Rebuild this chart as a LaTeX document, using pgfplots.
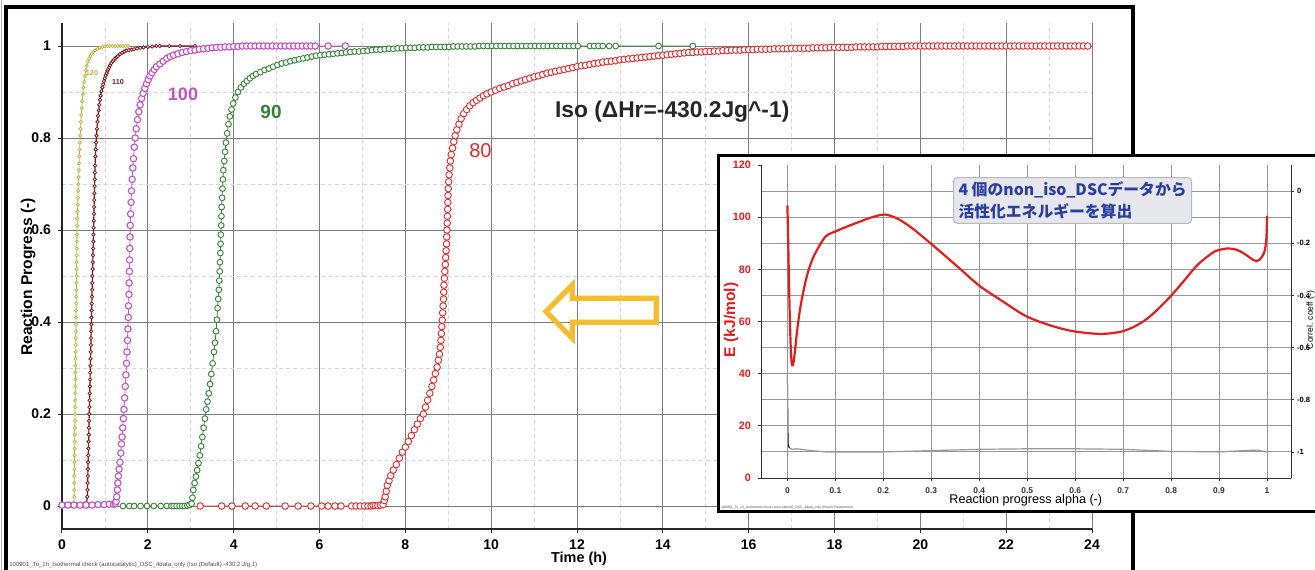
\documentclass[border=0pt]{standalone}
\usepackage{pgfplots}
\pgfplotsset{compat=1.18}
\usepackage{fontspec}
\setmainfont{Liberation Sans}
\newfontfamily\cjk{Noto Sans CJK JP}

\definecolor{c120}{RGB}{180,180,50}
\definecolor{c110}{RGB}{122,26,26}
\definecolor{c100}{RGB}{197,79,197}
\definecolor{c90}{RGB}{52,130,52}
\definecolor{c80}{RGB}{222,42,42}
\definecolor{arrowc}{RGB}{244,188,46}
\definecolor{jblue}{RGB}{42,62,160}
\definecolor{boxfill}{RGB}{229,231,237}
\definecolor{boxline}{RGB}{185,185,195}
\definecolor{majgrid}{RGB}{125,125,125}
\definecolor{mingrid}{RGB}{215,215,215}
\definecolor{inred}{RGB}{228,30,30}
\definecolor{ingrid}{RGB}{150,150,150}

\pgfplotsset{
  ser/.style n args={3}{#1, line width=0.4pt, mark=*, mark size=#2, mark options={fill=white, draw=#1, line width=#3}},
}

\begin{document}
\begin{tikzpicture}
\useasboundingbox (0,0) rectangle (657.5pt,284.5pt);
\clip (0,0) rectangle (657.5pt,284.5pt);
% outer frame of main chart
\draw[gray!60, line width=0.5pt] (0.75pt,-5pt) -- (0.75pt,290pt);
\draw[black, line width=1.6pt] (3pt,-5pt) -- (3pt,281pt) -- (566.5pt,281pt) -- (566.5pt,-5pt);

\begin{axis}[
  at={(31pt,20pt)}, anchor=south west,
  width=515pt, height=253pt, scale only axis,
  xmin=0, xmax=24, ymin=-0.05, ymax=1.05,
  axis x line*=bottom, axis y line*=left,
  axis line style={black!85, line width=0.6pt},
  xtick={0,2,4,6,8,10,12,14,16,18,20,22,24},
  minor xtick={1,3,5,7,9,11,13,15,17,19,21,23},
  ytick={0,0.2,0.4,0.6,0.8,1},
  minor ytick={0.1,0.3,0.5,0.7,0.9},
  grid=both,
  major grid style={majgrid, line width=0.5pt},
  minor grid style={mingrid, dash pattern=on 2pt off 1.5pt, line width=0.4pt},
  tick align=outside, major tick length=2pt, minor tick length=0pt,
  tick style={black!85, line width=0.5pt},
  /pgf/number format/assume math mode=true,
  tick label style={font=\fontsize{7}{8}\selectfont\bfseries},
  xlabel={Time (h)}, ylabel={Reaction Progress (-)},
  xlabel style={font=\fontsize{7.2}{8}\selectfont\bfseries, at={(axis description cs:0.502,0)}, anchor=center, yshift=-15pt},
  ylabel style={font=\fontsize{7.8}{9}\selectfont\bfseries, at={(axis description cs:-0.033,0.498)}, anchor=center},
]
% 120
\addplot[ser={c120}{0.8pt}{0.35pt}] coordinates {
(0,0.004)(0.06,0.004)(0.12,0.004)(0.18,0.005)(0.24,0.005)(0.27,0.006)
(0.2823,0.02)(0.284,0.035)(0.2858,0.05)(0.2875,0.065)(0.2892,0.08)(0.2909,0.095)(0.2927,0.11)(0.2944,0.125)(0.2961,0.14)(0.2978,0.155)
(0.2996,0.17)(0.3013,0.185)(0.303,0.2)(0.3047,0.215)(0.3065,0.23)(0.3082,0.245)(0.3099,0.26)(0.3116,0.275)(0.3134,0.29)(0.3151,0.305)
(0.3168,0.32)(0.3185,0.335)(0.3203,0.35)(0.322,0.365)(0.3237,0.38)(0.3254,0.395)(0.3272,0.41)(0.3289,0.425)(0.3306,0.44)(0.3323,0.455)
(0.3341,0.47)(0.3358,0.485)(0.3375,0.5)(0.3392,0.515)(0.341,0.53)(0.3427,0.545)(0.3444,0.56)(0.3461,0.575)(0.3479,0.59)
(0.352,0.61)(0.357,0.625)(0.362,0.64)(0.367,0.655)(0.372,0.67)(0.377,0.685)(0.382,0.70)(0.387,0.715)(0.392,0.73)(0.398,0.745)
(0.404,0.76)(0.41,0.775)(0.417,0.79)(0.424,0.805)(0.432,0.82)(0.44,0.835)(0.45,0.85)(0.46,0.865)(0.472,0.88)(0.485,0.895)
(0.5,0.91)(0.515,0.922)(0.535,0.935)(0.555,0.947)(0.575,0.957)(0.6,0.965)(0.63,0.972)(0.66,0.978)(0.69,0.983)(0.73,0.987)
(0.77,0.99)(0.82,0.993)(0.88,0.996)(0.94,0.998)(1.0,0.999)(1.06,1.0)(1.12,1.0)(1.18,1.0)(1.24,1.0)(1.3,1.0)(1.36,1.0)(1.42,1.0)(1.48,1.0)(1.54,1.0)};
% 110
\addplot[ser={c110}{0.85pt}{0.4pt}, line width=0.6pt] coordinates {
(0,0.003)(0.11,0.003)(0.22,0.003)(0.33,0.004)(0.44,0.004)(0.52,0.005)(0.57,0.006)
(0.590,0.02)(0.594,0.035)(0.5975,0.05)(0.601,0.065)(0.605,0.08)(0.609,0.095)(0.6125,0.11)(0.616,0.125)(0.62,0.14)(0.624,0.155)
(0.6275,0.17)(0.631,0.185)(0.635,0.2)(0.639,0.215)(0.6425,0.23)(0.646,0.245)(0.65,0.26)(0.654,0.275)(0.6575,0.29)(0.661,0.305)
(0.665,0.32)(0.669,0.335)(0.6725,0.35)(0.676,0.365)(0.68,0.38)(0.684,0.395)(0.6875,0.41)(0.691,0.425)(0.695,0.44)(0.699,0.455)
(0.7025,0.47)(0.706,0.485)(0.71,0.5)(0.714,0.515)(0.7175,0.53)(0.721,0.545)(0.725,0.56)(0.729,0.575)(0.7325,0.59)(0.736,0.605)
(0.74,0.62)(0.744,0.635)(0.7475,0.65)(0.751,0.665)(0.755,0.68)(0.759,0.695)(0.7625,0.71)(0.766,0.725)(0.77,0.74)
(0.778,0.76)(0.786,0.775)(0.795,0.79)(0.805,0.805)(0.815,0.82)(0.827,0.835)(0.84,0.848)(0.855,0.86)(0.87,0.872)(0.885,0.883)
(0.90,0.892)(0.92,0.902)(0.94,0.91)(0.96,0.917)(0.98,0.924)(1.0,0.93)(1.02,0.936)(1.04,0.941)(1.06,0.946)(1.08,0.95)
(1.1,0.954)(1.12,0.958)(1.15,0.963)(1.18,0.967)(1.21,0.97)(1.24,0.973)(1.27,0.976)(1.3,0.978)(1.35,0.982)(1.4,0.985)
(1.45,0.988)(1.5,0.99)(1.56,0.991)(1.62,0.992)(1.68,0.993)(1.75,0.995)(1.82,0.996)(1.9,0.997)(2.0,0.998)(2.1,0.999)(2.2,1.0)(2.28,1.0)
(2.5,1.0)(2.75,1.0)(3.1,1.0)};
% 100
\addplot[ser={c100}{1.6pt}{0.55pt}] coordinates {
(0,0.002)(0.14,0.002)(0.28,0.002)(0.42,0.002)(0.56,0.002)(0.7,0.002)(0.84,0.003)(0.98,0.003)(1.1,0.004)(1.2,0.004)(1.24,0.005)
(1.26,0.01)(1.275,0.02)(1.29,0.035)(1.30,0.05)(1.315,0.065)(1.33,0.08)(1.35,0.095)(1.37,0.115)(1.385,0.135)(1.40,0.15)
(1.415,0.17)(1.43,0.19)(1.445,0.21)(1.46,0.235)(1.475,0.26)(1.49,0.285)(1.505,0.31)(1.515,0.335)(1.525,0.36)(1.535,0.385)
(1.545,0.41)(1.55,0.435)(1.56,0.46)(1.565,0.485)(1.57,0.51)(1.575,0.535)(1.58,0.56)(1.585,0.585)(1.59,0.61)(1.60,0.635)
(1.61,0.66)(1.62,0.685)(1.635,0.71)(1.65,0.735)(1.665,0.755)(1.685,0.78)(1.705,0.80)(1.73,0.82)(1.76,0.84)(1.79,0.857)
(1.82,0.872)(1.855,0.886)(1.89,0.897)(1.93,0.908)(1.97,0.918)(2.01,0.927)(2.05,0.935)(2.1,0.942)(2.15,0.949)(2.2,0.955)
(2.28,0.961)(2.36,0.967)(2.44,0.973)(2.52,0.977)(2.6,0.98)(2.7,0.983)(2.8,0.986)(2.9,0.988)(3.0,0.99)(3.1,0.991)
(3.2,0.993)(3.3,0.994)(3.4,0.995)(3.5,0.996)(3.6,0.997)(3.7,0.997)(3.8,0.998)(3.9,0.998)(4.0,0.999)(4.1,0.999)
(4.2,1.0)(4.3,1.0)(4.4,1.0)(4.5,1.0)(4.6,1.0)(4.7,1.0)(4.8,1.0)(4.9,1.0)(5.0,1.0)(5.1,1.0)(5.2,1.0)(5.3,1.0)
(5.4,1.0)(5.5,1.0)(5.6,1.0)(5.7,1.0)(5.8,1.0)(5.9,1.0)(6.2,1.0)(6.6,1.0)};
% 90
\addplot[ser={c90}{1.45pt}{0.45pt}] coordinates {
(1.42,0)(1.57,0)(1.68,0)(1.83,0)(1.98,0)(2.14,0)(2.3,0)(2.44,0)(2.55,0)
(2.6,0)(2.67,0)(2.74,0)(2.8,0)(2.86,0)(2.92,0.001)(2.97,0.002)(3.02,0.005)
(3.04,0.018)(3.06,0.035)(3.09,0.05)(3.12,0.064)(3.15,0.078)(3.18,0.093)(3.21,0.11)(3.24,0.13)(3.27,0.15)(3.30,0.17)
(3.33,0.19)(3.36,0.21)(3.39,0.227)(3.42,0.245)(3.45,0.265)(3.48,0.287)(3.51,0.31)(3.54,0.335)(3.565,0.355)(3.59,0.38)
(3.61,0.405)(3.625,0.43)(3.64,0.45)(3.655,0.47)(3.665,0.49)(3.675,0.51)(3.68,0.53)(3.69,0.55)(3.695,0.57)(3.70,0.59)
(3.71,0.61)(3.715,0.63)(3.72,0.65)(3.73,0.67)(3.74,0.69)(3.75,0.71)(3.76,0.73)(3.78,0.75)(3.8,0.77)(3.82,0.79)
(3.85,0.81)(3.88,0.83)(3.91,0.847)(3.95,0.862)(3.99,0.875)(4.04,0.888)(4.1,0.9)(4.17,0.91)(4.24,0.918)(4.31,0.924)
(4.38,0.93)(4.45,0.935)(4.52,0.939)(4.62,0.943)(4.72,0.948)(4.82,0.951)(4.92,0.955)(5.02,0.959)(5.12,0.962)(5.22,0.964)
(5.32,0.967)(5.42,0.969)(5.52,0.971)(5.62,0.973)(5.72,0.975)(5.82,0.977)(5.92,0.979)(6.02,0.980)(6.12,0.981)(6.22,0.982)
(6.32,0.983)(6.42,0.984)(6.52,0.985)(6.62,0.986)(6.72,0.987)(6.82,0.988)(6.92,0.988)(7.02,0.989)(7.12,0.990)(7.22,0.991)
(7.32,0.992)(7.42,0.992)(7.52,0.993)(7.62,0.994)(7.72,0.994)(7.82,0.995)(7.92,0.995)(8.02,0.996)(8.12,0.996)(8.22,0.996)
(8.32,0.997)(8.42,0.997)(8.52,0.997)(8.62,0.998)(8.72,0.998)(8.82,0.998)(8.92,0.998)(9.02,0.998)(9.12,0.999)(9.22,0.999)
(9.32,0.999)(9.42,0.999)(9.52,0.999)(9.62,0.999)(9.72,1.0)(9.82,1.0)(9.92,1.0)(10.02,1.0)(10.12,1.0)(10.22,1.0)
(10.32,1.0)(10.42,1.0)(10.52,1.0)(10.62,1.0)(10.72,1.0)(10.82,1.0)(10.92,1.0)(11.02,1.0)(11.12,1.0)(11.22,1.0)
(11.32,1.0)(11.42,1.0)(11.52,1.0)(11.62,1.0)(11.72,1.0)(11.82,1.0)(11.92,1.0)(12.02,1.0)(12.3,1.0)(12.4,1.0)
(12.5,1.0)(12.6,1.0)(12.75,1.0)(12.9,1.0)(13.9,1.0)(14.7,1.0)};
% 80
\addplot[ser={c80}{1.65pt}{0.45pt}] coordinates {
(3.22,0)(3.72,0)(3.96,0)(4.27,0)(4.5,0)(4.76,0)(5.2,0)(5.5,0)(5.8,0)(6.05,0)(6.2,0)(6.36,0)(6.5,0)(6.75,0)(6.85,0)(6.95,0)(7.05,0)
(7.13,0)(7.2,0)(7.25,0.001)(7.30,0.001)(7.36,0.001)(7.42,0.002)(7.48,0.003)(7.51,0.012)(7.53,0.02)(7.555,0.032)(7.58,0.045)
(7.62,0.055)(7.66,0.066)(7.72,0.078)(7.79,0.09)(7.86,0.104)(7.93,0.117)(8.0,0.128)(8.07,0.14)(8.14,0.153)(8.21,0.166)
(8.28,0.178)(8.35,0.19)(8.42,0.20)(8.47,0.215)(8.52,0.23)(8.57,0.245)(8.62,0.26)(8.66,0.274)(8.70,0.288)(8.74,0.302)
(8.77,0.317)(8.795,0.33)(8.815,0.345)(8.83,0.36)(8.84,0.375)(8.85,0.39)(8.86,0.404)(8.87,0.42)(8.88,0.435)(8.89,0.45)
(8.895,0.465)(8.90,0.48)(8.91,0.495)(8.92,0.51)(8.93,0.525)(8.94,0.54)(8.95,0.555)(8.96,0.57)(8.965,0.585)(8.97,0.60)
(8.975,0.615)(8.98,0.63)(8.985,0.645)(8.99,0.66)(8.995,0.675)(9.0,0.69)(9.01,0.705)(9.02,0.72)(9.035,0.735)(9.05,0.75)
(9.07,0.764)(9.1,0.778)(9.13,0.792)(9.16,0.805)(9.2,0.818)(9.25,0.83)(9.3,0.842)(9.36,0.853)(9.43,0.862)(9.5,0.87)
(9.58,0.877)(9.66,0.882)(9.74,0.887)(9.82,0.892)(9.9,0.896)
(10.0,0.900)(10.1,0.904)(10.2,0.908)(10.3,0.911)(10.4,0.914)(10.5,0.918)(10.6,0.921)(10.7,0.924)(10.8,0.927)(10.9,0.930)
(11.0,0.933)(11.1,0.935)(11.2,0.938)(11.3,0.941)(11.4,0.943)(11.5,0.945)(11.6,0.947)(11.7,0.949)(11.8,0.951)(11.9,0.953)
(12.0,0.955)(12.1,0.957)(12.2,0.958)(12.3,0.960)(12.4,0.962)(12.5,0.963)(12.6,0.965)(12.7,0.966)(12.8,0.967)(12.9,0.968)
(13.0,0.970)(13.1,0.971)(13.2,0.972)(13.3,0.973)(13.4,0.974)(13.5,0.975)(13.6,0.976)(13.7,0.977)(13.8,0.978)(13.9,0.979)
(14.0,0.980)(14.1,0.981)(14.2,0.982)(14.3,0.983)(14.4,0.984)(14.5,0.985)(14.6,0.986)(14.7,0.986)(14.8,0.987)(14.9,0.987)
(15.0,0.988)(15.1,0.988)(15.2,0.989)(15.3,0.989)(15.4,0.990)(15.5,0.990)(15.6,0.991)(15.7,0.991)(15.8,0.991)(15.9,0.992)
(16.0,0.992)(16.1,0.992)(16.2,0.993)(16.3,0.993)(16.4,0.993)(16.5,0.993)(16.6,0.994)(16.7,0.994)(16.8,0.994)(16.9,0.994)
(17.0,0.995)(17.1,0.995)(17.2,0.995)(17.3,0.995)(17.4,0.995)(17.5,0.996)(17.6,0.996)(17.7,0.996)(17.8,0.996)(17.9,0.997)
(18.0,0.997)(18.1,0.997)(18.2,0.997)(18.3,0.997)(18.4,0.997)(18.5,0.998)(18.6,0.998)(18.7,0.998)(18.8,0.998)(18.9,0.998)
(19.0,0.998)(19.1,0.999)(19.2,0.999)(19.3,0.999)(19.4,0.999)(19.5,0.999)(19.6,0.999)(19.7,1.0)(19.8,1.0)(19.9,1.0)
(20.0,1.0)(20.1,1.0)(20.2,1.0)(20.3,1.0)(20.4,1.0)(20.5,1.0)(20.6,1.0)(20.7,1.0)(20.8,1.0)(20.9,1.0)
(21.0,1.0)(21.1,1.0)(21.2,1.0)(21.3,1.0)(21.4,1.0)(21.5,1.0)(21.6,1.0)(21.7,1.0)(21.8,1.0)(21.9,1.0)
(22.0,1.0)(22.1,1.0)(22.2,1.0)(22.3,1.0)(22.4,1.0)(22.5,1.0)(22.6,1.0)(22.7,1.0)(22.8,1.0)(22.9,1.0)
(23.0,1.0)(23.1,1.0)(23.2,1.0)(23.3,1.0)(23.4,1.0)(23.5,1.0)(23.6,1.0)(23.7,1.0)(23.8,1.0)(23.9,1.0)};
\end{axis}

% curve labels
\node[c120, font=\fontsize{3.6}{4}\selectfont\bfseries] at (46pt,248pt) {120};
\node[c110, font=\fontsize{3.6}{4}\selectfont\bfseries] at (59pt,243.5pt) {110};
\node[c100, font=\fontsize{9}{10}\selectfont\bfseries] at (91.5pt,237.5pt) {100};
\node[c90, font=\fontsize{9.5}{10}\selectfont\bfseries] at (135.5pt,228.5pt) {90};
\node[c80, font=\fontsize{10}{11}\selectfont] at (240.2pt,209.2pt) {80};
\node[black!85, font=\fontsize{11.4}{12}\selectfont\bfseries] at (336.1pt,228.7pt) {Iso (ΔHr=-430.2Jg\textasciicircum-1)};

% arrow
\draw[arrowc, line width=2.6pt, line join=miter, miter limit=6] (273pt,128.75pt) -- (286.15pt,142pt) -- (286.15pt,135.35pt) -- (328.15pt,135.35pt) -- (328.15pt,123.35pt) -- (286.15pt,123.35pt) -- (286.15pt,115.35pt) -- cycle;

% bottom tiny text
\node[anchor=west, black!70, font=\fontsize{3}{3.5}\selectfont, inner sep=0pt] at (4.5pt,2pt) {100901\_To\_1h\_Isothermal check (autocatalytic)\_DSC\_4data\_only (Iso (Default) -430.2 J/g 1)};

% inset frame
\fill[white] (359pt,29pt) rectangle (670pt,207pt);
\draw[black, line width=1.5pt] (670pt,207pt) -- (359pt,207pt) -- (359pt,29pt) -- (670pt,29pt);

% inset right axis: correlation coefficient
\begin{axis}[
  at={(380.5pt,45.5pt)}, anchor=south west,
  width=265pt, height=156.5pt, scale only axis,
  xmin=-0.055, xmax=1.05, ymin=-1.1, ymax=0.1,
  axis x line=none, axis y line*=right,
  axis line style={black!80, line width=0.5pt},
  ytick={-1,-0.8,-0.6,-0.4,-0.2,0},
  ymajorgrids, grid style={ingrid, line width=0.45pt},
  tick align=outside, major tick length=1.5pt,
  tick style={black!80, line width=0.4pt},
  /pgf/number format/assume math mode=true,
  yticklabel style={font=\fontsize{3.8}{4.5}\selectfont\bfseries, xshift=-2pt},
  ylabel={Correl. coeff (-)},
  ylabel style={font=\fontsize{4.3}{5}\selectfont, inner sep=0.5pt, at={(axis description cs:1.0368,0.505)}, anchor=center},
]
\addplot[gray!80, line width=0.6pt] coordinates {
(0.004,-0.985)(0.01,-0.99)(0.02,-0.988)(0.05,-0.995)(0.08,-1.0)(0.2,-1.0)(0.3,-0.995)(0.4,-0.99)(0.5,-0.988)(0.6,-0.988)(0.7,-0.99)(0.8,-0.998)(0.9,-1.0)(0.95,-0.995)(0.98,-0.993)(1.0,-1.0)};
\addplot[black, line width=0.5pt] coordinates {
(0,-0.7)(0.0015,-0.97)(0.004,-0.985)};
\end{axis}

% inset left axis: activation energy
\begin{axis}[
  at={(380.5pt,45.5pt)}, anchor=south west,
  width=265pt, height=156.5pt, scale only axis,
  xmin=-0.055, xmax=1.05, ymin=0, ymax=120,
  axis x line*=bottom, axis y line*=left,
  axis line style={black!80, line width=0.5pt},
  xtick={0,0.1,0.2,0.3,0.4,0.5,0.6,0.7,0.8,0.9,1},
  ytick={0,20,40,60,80,100},
  extra y ticks={120}, extra y tick style={grid=none},
  grid=major, grid style={ingrid, line width=0.45pt},
  tick align=outside, major tick length=1.5pt,
  tick style={black!80, line width=0.4pt},
  /pgf/number format/assume math mode=true,
  xticklabel style={font=\fontsize{4.2}{5}\selectfont\bfseries, black!80},
  yticklabel style={font=\fontsize{5.4}{6}\selectfont\bfseries, inred},
  xlabel={Reaction progress alpha (-)},
  xlabel style={font=\fontsize{6.3}{7}\selectfont, at={(axis description cs:0.4996,0)}, anchor=center, yshift=-11pt},
  ylabel={E (kJ/mol)},
  ylabel style={font=\fontsize{7.8}{9}\selectfont\bfseries, inred, at={(axis description cs:-0.0566,0.505)}, anchor=center},
]
\addplot[inred, line width=1.1pt, smooth, tension=0.5] coordinates {
(0,104.5)(0.001,97)(0.002,88)(0.003,78)(0.005,62)(0.007,50)(0.009,44)(0.011,43.2)(0.013,44.5)(0.016,49)(0.02,56)(0.025,63)(0.03,68.5)(0.035,73)(0.04,77)(0.047,81.3)(0.055,85)(0.065,88.5)(0.079,92.5)(0.09,93.8)(0.1,94.5)(0.111,95.4)(0.13,96.8)(0.15,98.2)(0.17,99.6)(0.196,100.9)(0.21,100.8)(0.232,99.2)(0.26,95.8)(0.297,90.2)(0.33,85)(0.36,80.2)(0.401,73.6)(0.45,67.6)(0.498,62)(0.55,58.4)(0.595,56.3)(0.643,55.3)(0.67,55.4)(0.70,56.3)(0.725,58.2)(0.748,60.8)(0.77,64.3)(0.796,69.1)(0.825,75.2)(0.853,81.3)(0.875,84.8)(0.893,87)(0.917,88)(0.935,87.6)(0.949,86.4)(0.962,84.8)(0.972,83.5)(0.978,83.2)(0.984,83.6)(0.99,85)(0.994,86.4)(0.997,89)(0.999,93)(1.0,100.5)};
\end{axis}

% Japanese note box
\node[draw=boxline, fill=boxfill, rounded corners=2pt, line width=0.5pt, inner xsep=2.5pt, inner ysep=2pt,
  anchor=north west, align=left, text=jblue, font=\cjk\bfseries\fontsize{7.9}{11.3}\selectfont]
  at (476.5pt,196pt) {4 個のnon\_iso\_DSCデータから\\活性化エネルギーを算出};

% inset tiny text
\node[anchor=west, black!70, font=\fontsize{1.7}{2}\selectfont, inner sep=0pt] at (360.5pt,30.5pt) {100901\_To\_1h\_Isothermal check (autocatalytic)\_DSC\_4data\_only (Kinetic Parameters)};
\end{tikzpicture}
\end{document}
